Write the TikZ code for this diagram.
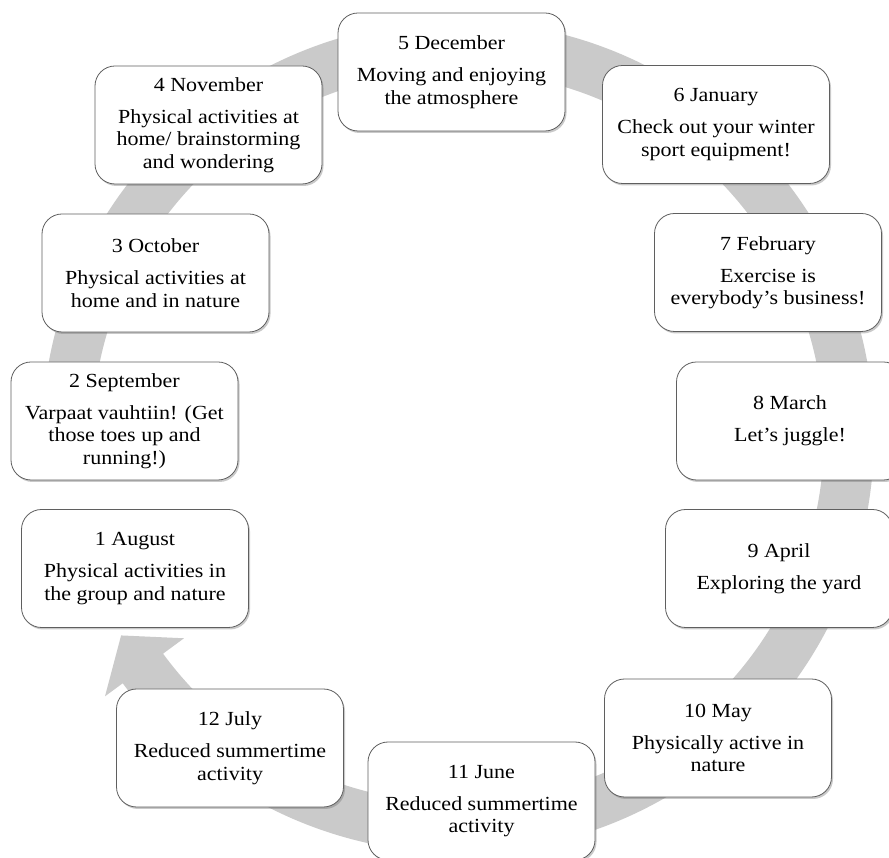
\documentclass[tikz,border=0pt]{standalone}
\usepackage{fontspec}
\setmainfont{Liberation Serif}[FakeStretch=1.1]
\usetikzlibrary{calc,shadows}
\definecolor{bandgray}{RGB}{202,202,202}
\definecolor{boxline}{RGB}{95,95,95}
\tikzset{
  month/.style={draw=boxline, line width=0.8pt, fill=white, rounded corners=20pt,
    minimum width=227pt, minimum height=118pt, align=center, inner sep=0pt,
    font=\fontsize{20}{22.5}\selectfont,
    drop shadow={shadow xshift=1.5pt, shadow yshift=-2pt, opacity=0.35, fill=black!60}},
}
\newcommand{\mtext}[2]{#1\\[9.5pt]#2}
\begin{document}
\begin{tikzpicture}[x=1pt,y=1pt]
\clip (0,0) rectangle (889,857);
\fill[white] (0,0) rectangle (889,857);
\coordinate (c) at (458,420);
% circular arrow
\fill[bandgray] ($(c)+(175:416)$) arc[start angle=175, end angle=-143.7, radius=416]
  -- ($(c)+(-143.7:438)$) -- ($(c)+(-149.5:391)$) -- ($(c)+(-143.7:340)$)
  -- ($(c)+(-143.7:366)$) arc[start angle=-143.7, end angle=175, radius=366] -- cycle;
% boxes
\node[month] (dec) at (451.5,785) {\mtext{5 December}{Moving and enjoying\\the atmosphere}};
\node[month] (jan) at (716,732.5) {\mtext{6 January}{Check out your winter\\sport equipment!}};
\node[month] (feb) at (768,584.5) {\mtext{7 February}{Exercise is\\everybody’s business!}};
\node[month] (mar) at (790,436) {\mtext{8 March}{Let’s juggle!}};
\node[month] (apr) at (779,288.5) {\mtext{9 April}{Exploring the yard}};
\node[month] (may) at (718,119) {\mtext{10 May}{Physically active in\\nature}};
\node[month] (jun) at (481.5,56) {\mtext{11 June}{Reduced summertime\\activity}};
\node[month] (jul) at (230,109) {\mtext{12 July}{Reduced summertime\\activity}};
\node[month] (aug) at (135,288.5) {\mtext{1 August}{Physical activities in\\the group and nature}};
\node[month] (sep) at (124.5,436) {\mtext{2 September}{Varpaat vauhtiin! (Get\\those toes up and\\running!)}};
\node[month] (oct) at (155.5,584) {\mtext{3 October}{Physical activities at\\home and in nature}};
\node[month] (nov) at (208.5,732) {\mtext{4 November}{Physical activities at\\home/ brainstorming\\and wondering}};
\end{tikzpicture}
\end{document}
